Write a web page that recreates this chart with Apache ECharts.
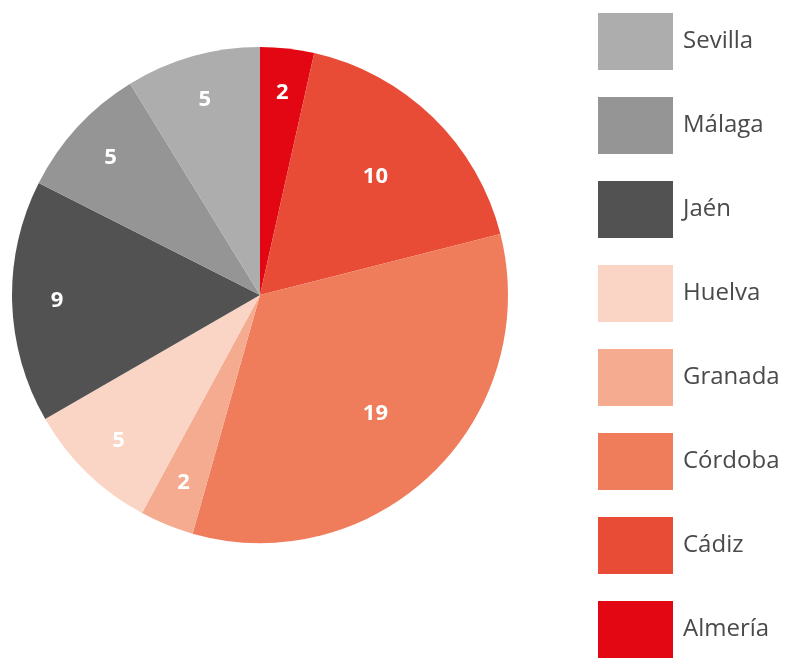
<!DOCTYPE html>
<html>
<head>
<meta charset="utf-8">
<script src="https://cdn.jsdelivr.net/npm/echarts@6/dist/echarts.min.js"></script>
<style>
  html, body { margin: 0; padding: 0; background: #fff; }
  #chart { width: 787px; height: 662px; }
</style>
</head>
<body>
<div id="chart"></div>
<script>
  // datos en sentido horario desde arriba
  var provincias = ['Almería', 'Cádiz', 'Córdoba', 'Granada', 'Huelva', 'Jaén', 'Málaga', 'Sevilla'];
  var valores = [2, 10, 19, 2, 5, 9, 5, 5];
  var colores = ['#e30613', '#e84c36', '#ef7d5b', '#f4ab90', '#fad4c4', '#525252', '#959595', '#adadad'];
  // la leyenda va en orden inverso
  var leyenda = ['Sevilla', 'Málaga', 'Jaén', 'Huelva', 'Granada', 'Córdoba', 'Cádiz', 'Almería'];
  // etiquetas de las porciones grandes más hacia el centro
  var grandes = ['Cádiz', 'Córdoba'];

  var datos = provincias.map(function (p, i) {
    return {name: p, value: valores[i], itemStyle: {color: colores[i]}};
  });

  var labelStyle = {
    show: true,
    position: 'inside',
    color: '#fff',
    fontSize: 22,
    fontWeight: 'bold',
    fontFamily: 'Open Sans'
  };

  function serieEtiquetas(radio, filtro) {
    return {
      type: 'pie',
      center: [260, 295],
      radius: radio,
      silent: true,
      legendHoverLink: false,
      itemStyle: {color: 'rgba(0,0,0,0)'},
      label: Object.assign({}, labelStyle, {
        formatter: function (p) {
          return filtro(p.name) ? String(p.value) : '';
        }
      }),
      labelLine: {show: false},
      data: provincias.map(function (p, i) {
        return {name: p, value: valores[i]};
      })
    };
  }

  var chart = echarts.init(document.getElementById('chart'));
  chart.setOption({
    animation: false,
    color: colores,
    legend: {
      orient: 'vertical',
      left: 598,
      top: 13,
      padding: 0,
      itemWidth: 75,
      itemHeight: 57,
      itemGap: 27,
      icon: 'rect',
      data: leyenda,
      textStyle: {
        fontSize: 24,
        color: '#4a4a4a',
        fontFamily: 'Open Sans',
        padding: [0, 0, 0, 5]
      }
    },
    series: [
      {
        type: 'pie',
        center: [260, 295],
        radius: 248,
        startAngle: 90,
        clockwise: true,
        label: {show: false},
        labelLine: {show: false},
        data: datos
      },
      serieEtiquetas([185, 215], function (n) { return grandes.indexOf(n) < 0; }),
      serieEtiquetas([150, 175], function (n) { return grandes.indexOf(n) >= 0; })
    ]
  });
</script>
</body>
</html>
